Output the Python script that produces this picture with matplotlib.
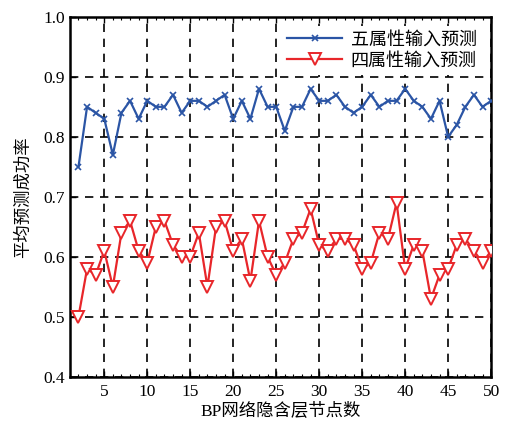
import matplotlib
matplotlib.use("Agg")
import matplotlib.pyplot as plt
from matplotlib.ticker import MultipleLocator

plt.rcParams['font.family'] = ['Liberation Serif', 'Noto Sans CJK SC']
plt.rcParams['axes.unicode_minus'] = False

nodes = list(range(2, 51))
five_attr = [0.75, 0.85, 0.84, 0.83, 0.77, 0.84, 0.86, 0.83, 0.86, 0.85,
             0.85, 0.87, 0.84, 0.86, 0.86, 0.85, 0.86, 0.87, 0.83, 0.86,
             0.83, 0.88, 0.85, 0.85, 0.81, 0.85, 0.85, 0.88, 0.86, 0.86,
             0.87, 0.85, 0.84, 0.85, 0.87, 0.85, 0.86, 0.86, 0.88, 0.86,
             0.85, 0.83, 0.86, 0.80, 0.82, 0.85, 0.87, 0.85, 0.86]
four_attr = [0.50, 0.58, 0.57, 0.61, 0.55, 0.64, 0.66, 0.61, 0.59, 0.65,
             0.66, 0.62, 0.60, 0.60, 0.64, 0.55, 0.65, 0.66, 0.61, 0.63,
             0.56, 0.66, 0.60, 0.57, 0.59, 0.63, 0.64, 0.68, 0.62, 0.61,
             0.63, 0.63, 0.62, 0.58, 0.59, 0.64, 0.63, 0.69, 0.58, 0.62,
             0.61, 0.53, 0.57, 0.58, 0.62, 0.63, 0.61, 0.59, 0.61]
xticks = [5, 10, 15, 20, 25, 30, 35, 40, 45, 50]
yticks = [0.4, 0.5, 0.6, 0.7, 0.8, 0.9, 1.0]

fig = plt.figure(figsize=(5.1, 4.21), dpi=100)
ax = fig.add_axes([0.137, 0.105, 0.826, 0.855])

ax.plot(nodes, five_attr, color='#2b55a5', lw=1.6, marker='x', ms=4, mew=1.2,
        label='五属性输入预测', zorder=3)
ax.plot(nodes, four_attr, color='#e8262a', lw=1.6, marker='v', ms=8, mew=1.4,
        mfc='white', mec='#e8262a', label='四属性输入预测', zorder=3)

ax.set_xlim(1, 50)
ax.set_ylim(0.4, 1.0)
ax.set_xticks(xticks)
ax.set_yticks(yticks)
ax.set_yticklabels([f'{v:.1f}' for v in yticks])
ax.xaxis.set_minor_locator(MultipleLocator(1))
ax.tick_params(axis='both', which='both', direction='in', labelsize=12.5)
ax.tick_params(axis='x', which='both', top=True, pad=5)
ax.tick_params(which='major', length=4, width=1)
ax.tick_params(which='minor', length=2.5, width=0.8)
ax.grid(True, which='major', color='black', ls=(0, (5, 4)), lw=1.2)
for s in ax.spines.values():
    s.set_linewidth(1.8)

ax.set_xlabel('BP网络隐含层节点数', fontsize=12.5, labelpad=2)
ax.set_ylabel('平均预测成功率', fontsize=12.5, labelpad=8)

leg = ax.legend(loc='upper right', frameon=True, fontsize=13,
                handlelength=3.0, handletextpad=0.5, borderaxespad=0.5,
                labelspacing=0.25, fancybox=False, framealpha=1,
                facecolor='white', edgecolor='none', borderpad=0.3)

fig.savefig('out.png', dpi=100)
